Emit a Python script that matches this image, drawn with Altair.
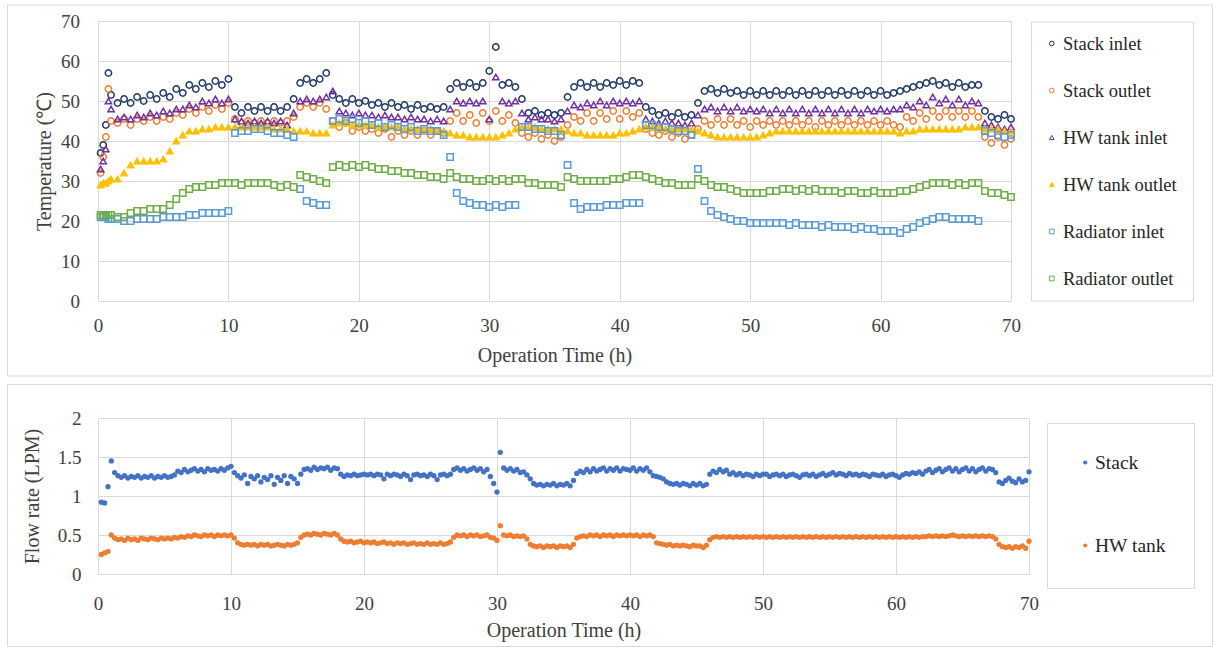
import altair as alt
import pandas as pd

FONT = "Liberation Serif"

# ---------------- Top chart: temperatures ----------------
SERIES_T = ["Stack inlet", "Stack outlet", "HW tank inlet", "HW tank outlet",
            "Radiator inlet", "Radiator outlet"]
COLORS_T = ["#203864", "#ED7D31", "#7030A0", "#FFC000", "#5B9BD5", "#70AD47"]
FILLS_T = ["transparent", "transparent", "transparent", "#FFC000",
           "transparent", "transparent"]
SHAPES_T = ["circle", "circle", "triangle-up", "triangle-up", "square", "square"]

# sampling times (h): four start-up readings, then every half hour 1.0 ... 70.0
t_top = [0.2, 0.4, 0.6, 0.8] + [1.0 + 0.5 * k for k in range(139)]

stack_inlet = [37, 39, 44, 57,
    51.5, 49.5, 50.5, 49.5, 51, 50, 51.5, 50.5, 52, 51,
    53, 52, 54, 53, 54.5, 53.5, 55, 54, 55.5, 48.5,
    47, 48.5, 47.5, 48.5, 47.5, 48.5, 47.5, 48.5, 50.5, 54.5,
    55.5, 54.5, 55.5, 57, 51.5, 50.5, 49.5, 50.5, 49.5, 50,
    49, 49.5, 48.5, 49.5, 48.5, 49, 48, 49, 48, 48.5,
    48, 48.5, 53, 54.5, 53.5, 54.5, 53.5, 54.5, 57.5, 63.5,
    54, 54.5, 53.5, 50.5, 47, 47.5, 46.5, 47, 46.5, 47,
    51, 53.5, 54.5, 53.5, 54.5, 53.5, 54.5, 54, 55, 54,
    55, 54.5, 48.5, 47.5, 46.5, 47, 46, 47, 46, 46.5,
    49.5, 52.5, 53, 52, 53, 52, 52.5, 51.5, 52.5, 51.5,
    52.5, 51.5, 52.5, 51.5, 52.5, 51.5, 52.5, 51.5, 52.5, 51.5,
    52.5, 51.5, 52.5, 51.5, 52.5, 51.5, 52.5, 51.5, 52.5, 51.5,
    52, 52.5, 53, 53.5, 54, 54.5, 55, 54, 54.5, 53.5,
    54.5, 53.5, 54, 54, 47.5, 46, 45.5, 46.5, 45.5]

stack_outlet = [32, 36, 41, 53,
    45, 44.5, 45.5, 44, 45.5, 45, 46, 45, 46, 45.5,
    47, 46.5, 48, 47, 48.5, 47.5, 49, 48, 49.5, 45.5,
    44.5, 45, 44.5, 45, 44.5, 45, 44.5, 45, 46, 48.5,
    49.5, 48.5, 49.5, 48, 45, 43.5, 44.5, 42.5, 43.5, 42.5,
    43, 42, 43, 41, 42.5, 41.5, 42.5, 41.5, 42.5, 41.5,
    42.5, 42, 45, 47, 45, 46.5, 44.5, 47, 45, 47.5,
    45, 46.5, 44.5, 42, 41, 42, 40.5, 41.5, 40, 41,
    44, 46, 45, 47, 45, 47, 45.5, 47.5, 45.5, 47.5,
    46, 47, 43, 42, 41.5, 42.5, 41, 42, 40.5, 41.5,
    43, 45, 44, 45.5, 44, 45.5, 44, 45, 43.5, 45,
    44, 45, 44, 45, 44, 45, 44, 45, 43.5, 45,
    44, 45, 44, 45, 44, 45, 44, 45, 44, 45,
    44, 43.5, 46, 45, 47, 45.5, 47.5, 46, 47.5, 46,
    47.5, 46, 47.5, 46, 41, 39.5, 41, 39, 40.5]

hw_tank_inlet = [33, 35, 38, 50,
    48, 45.5, 46, 45.5, 46.5, 46, 47, 46.5, 47.5, 47,
    48, 48, 49, 48.5, 50, 49.5, 50.5, 49.5, 50.5, 45.5,
    45, 44.5, 45, 44.5, 45, 44.5, 45, 44, 47, 50,
    50.5, 50, 50.5, 51, 52.5, 47.5, 47, 46.5, 47, 46.5,
    46.5, 46, 46.5, 46, 46, 45.5, 46, 45.5, 45.5, 45,
    45.5, 45, 48, 50, 49.5, 50, 49.5, 50, 45.5, 56,
    50, 49.5, 50, 47, 45.5, 46, 45.5, 45.5, 45, 45.5,
    47.5, 49, 48.5, 49.5, 49, 50, 49, 50, 49.5, 50,
    49.5, 50, 45.5, 45, 44.5, 45, 44.5, 44.5, 44, 44.5,
    46.5, 48, 48.5, 47.5, 48.5, 47.5, 48.5, 47.5, 48, 47.5,
    48, 47, 48, 47, 48, 47, 48, 47, 48, 47,
    48, 47, 48, 47, 48, 47, 48, 47.5, 48, 47.5,
    48, 48, 49, 48.5, 50, 49, 51, 49.5, 50.5, 49,
    50.5, 49, 50, 49.5, 44.5, 44, 43.5, 43, 43.5]

hw_tank_outlet = [29, 29.5, 29.5, 30,
    30.5, 30.5, 32, 34, 35, 35, 35, 35, 35.5, 37.5,
    40, 41.5, 42.5, 42.5, 43, 43, 43.5, 43.5, 43.5, 43.5,
    43.5, 43.5, 43.5, 43.5, 43.5, 43, 43, 43, 42.5, 42.5,
    42.5, 42, 42, 42, 44, 44.5, 44.5, 44, 44, 44,
    44, 43.5, 43.5, 43.5, 43.5, 43, 43, 43, 43, 43,
    42.5, 42.5, 42, 41.5, 41.5, 41, 41, 41, 41, 41,
    41.5, 42, 43, 43.5, 43.5, 43.5, 43, 43, 43, 43,
    42.5, 42, 42, 41.5, 41.5, 41.5, 41.5, 41.5, 42, 42,
    42.5, 43, 43.5, 43.5, 43.5, 43, 43, 43, 43, 43,
    42.5, 42, 41.5, 41, 41, 41, 41, 41, 41, 41,
    41.5, 42, 42.5, 42.5, 42.5, 42.5, 42.5, 42.5, 42.5, 42.5,
    42.5, 42.5, 42.5, 42.5, 42.5, 42.5, 42.5, 42.5, 42.5, 42.5,
    42.5, 42, 42.5, 42.5, 43, 43, 43, 43, 43, 43,
    43, 43.5, 43.5, 43.5, 43, 43, 43, 42.5, 42.5]

radiator_inlet = [21, 21, 21, 20.5,
    20.5, 20.5, 20, 20, 20.5, 20.5, 20.5, 20.5, 21, 21,
    21, 21, 21.5, 21.5, 22, 22, 22, 22, 22.5, 42,
    42.5, 42.5, 43, 43, 42.5, 42, 42, 41.5, 41, 28,
    25, 24.5, 24, 24, 45, 45.5, 45, 45.5, 44.5, 45,
    44, 44.5, 43.5, 44, 43.5, 43, 43.5, 42.5, 43, 42.5,
    42.5, 41.5, 36, 27, 25, 24.5, 24, 24, 23.5, 24,
    23.5, 24, 24, 43.5, 43.5, 43, 43, 42.5, 42.5, 41.5,
    34, 24.5, 23, 23.5, 23.5, 23.5, 24, 24, 24, 24.5,
    24.5, 24.5, 44, 44, 43.5, 43.5, 43, 42.5, 42.5, 41.5,
    33, 25, 22.5, 21.5, 21, 20.5, 20, 20, 19.5, 19.5,
    19.5, 19.5, 19.5, 19.5, 19, 19.5, 19, 19, 19, 18.5,
    19, 18.5, 18.5, 18.5, 18, 18.5, 18, 18, 17.5, 17.5,
    17.5, 17, 18, 18.5, 19.5, 20, 20.5, 21, 21, 20.5,
    20.5, 20.5, 20.5, 20, 42.5, 42, 41.5, 41, 41.5]

radiator_outlet = [21.5, 21.5, 21.5, 21.5,
    21.5, 21, 21, 22, 22.5, 22.5, 23, 23, 23, 24,
    25.5, 27, 28, 28.5, 28.5, 29, 29, 29.5, 29.5, 29.5,
    29, 29.5, 29.5, 29.5, 29.5, 29, 28.5, 29, 28.5, 31.5,
    31, 30.5, 30, 29.5, 33.5, 34, 33.5, 34, 33.5, 34,
    33.5, 33, 33, 32.5, 32.5, 32, 32, 31.5, 31.5, 31,
    31, 30.5, 32, 31, 30.5, 30.5, 30, 30, 30.5, 30,
    30.5, 30, 30.5, 30.5, 29.5, 29.5, 29, 29, 29, 28.5,
    31, 30.5, 30, 30, 30, 30, 30, 30.5, 30.5, 31,
    31.5, 31.5, 31, 30.5, 30, 29.5, 29.5, 29, 29, 29,
    30.5, 30, 29, 28.5, 28.5, 28, 27.5, 27, 27, 27,
    27, 27.5, 27.5, 28, 28, 27.5, 28, 27.5, 28, 27.5,
    27.5, 27.5, 27, 27.5, 27.5, 27, 27, 27.5, 27, 27,
    27, 27.5, 27.5, 28, 28.5, 29, 29.5, 29.5, 29.5, 29,
    29.5, 29, 29.5, 29.5, 27.5, 27, 27, 26.5, 26]

# ---------------- Bottom chart: flow rates ----------------
SERIES_B = ["Stack", "HW tank"]
COLORS_B = ["#4472C4", "#ED7D31"]

# sampling times (h): every quarter hour 0.25 ... 70.0
t_bot = [0.25 * k for k in range(1, 281)]

flow_stack = [
    0.92, 0.91, 1.12, 1.45, 1.30, 1.26, 1.24, 1.26, 1.23, 1.25, 1.24, 1.26, 1.23, 1.25, 1.24, 1.26, 1.23, 1.25, 1.24, 1.26,
    1.24, 1.25, 1.27, 1.32, 1.30, 1.34, 1.31, 1.33, 1.35, 1.32, 1.34, 1.31, 1.35, 1.33, 1.34, 1.32, 1.35, 1.33, 1.36, 1.38,
    1.30, 1.26, 1.23, 1.27, 1.16, 1.25, 1.22, 1.26, 1.18, 1.24, 1.21, 1.26, 1.15, 1.24, 1.20, 1.26, 1.16, 1.25, 1.22, 1.16,
    1.28, 1.34, 1.35, 1.33, 1.37, 1.34, 1.36, 1.35, 1.37, 1.33, 1.36, 1.35, 1.28, 1.25, 1.27, 1.26, 1.28, 1.26, 1.27, 1.28,
    1.27, 1.28, 1.26, 1.28, 1.27, 1.22, 1.28, 1.26, 1.28, 1.27, 1.25, 1.28, 1.26, 1.21, 1.27, 1.28, 1.26, 1.27, 1.25, 1.28,
    1.26, 1.21, 1.27, 1.28, 1.26, 1.28, 1.34, 1.36, 1.33, 1.35, 1.32, 1.34, 1.36, 1.33, 1.35, 1.31, 1.34, 1.25, 1.16, 1.05,
    1.56, 1.36, 1.33, 1.35, 1.32, 1.34, 1.30, 1.31, 1.27, 1.22, 1.16, 1.14, 1.15, 1.13, 1.15, 1.14, 1.16, 1.13, 1.15, 1.14,
    1.16, 1.13, 1.20, 1.29, 1.32, 1.30, 1.34, 1.31, 1.35, 1.32, 1.34, 1.36, 1.32, 1.35, 1.33, 1.36, 1.32, 1.35, 1.34, 1.33,
    1.36, 1.32, 1.35, 1.33, 1.36, 1.31, 1.26, 1.25, 1.24, 1.22, 1.18, 1.16, 1.15, 1.16, 1.14, 1.16, 1.15, 1.13, 1.16, 1.14,
    1.16, 1.13, 1.15, 1.28, 1.32, 1.30, 1.34, 1.31, 1.33, 1.28, 1.30, 1.27, 1.29, 1.26, 1.28, 1.27, 1.25, 1.28, 1.26, 1.28,
    1.28, 1.25, 1.27, 1.28, 1.26, 1.28, 1.25, 1.27, 1.28, 1.26, 1.24, 1.27, 1.28, 1.26, 1.28, 1.25, 1.27, 1.29, 1.26, 1.28,
    1.30, 1.27, 1.29, 1.28, 1.26, 1.29, 1.27, 1.28, 1.26, 1.28, 1.27, 1.25, 1.28, 1.27, 1.26, 1.28, 1.25, 1.27, 1.28, 1.26,
    1.24, 1.27, 1.29, 1.28, 1.30, 1.29, 1.31, 1.28, 1.32, 1.34, 1.30, 1.33, 1.35, 1.31, 1.34, 1.36, 1.32, 1.35, 1.31, 1.34,
    1.36, 1.32, 1.35, 1.31, 1.34, 1.36, 1.32, 1.35, 1.34, 1.30, 1.18, 1.16, 1.20, 1.23, 1.19, 1.17, 1.22, 1.18, 1.20, 1.31]

flow_hw_tank = [
    0.25, 0.27, 0.29, 0.50, 0.46, 0.44, 0.45, 0.43, 0.46, 0.44, 0.45, 0.43, 0.46, 0.45, 0.44, 0.46, 0.45, 0.44, 0.46, 0.45,
    0.46, 0.45, 0.47, 0.46, 0.48, 0.47, 0.49, 0.48, 0.50, 0.49, 0.48, 0.50, 0.49, 0.50, 0.48, 0.50, 0.49, 0.50, 0.49, 0.50,
    0.46, 0.40, 0.38, 0.37, 0.38, 0.37, 0.38, 0.36, 0.38, 0.37, 0.38, 0.36, 0.37, 0.38, 0.37, 0.36, 0.38, 0.37, 0.38, 0.40,
    0.47, 0.50, 0.51, 0.50, 0.52, 0.51, 0.50, 0.52, 0.51, 0.50, 0.52, 0.50, 0.45, 0.42, 0.41, 0.42, 0.40, 0.41, 0.42, 0.40,
    0.41, 0.40, 0.41, 0.39, 0.40, 0.41, 0.39, 0.40, 0.38, 0.40, 0.39, 0.40, 0.38, 0.39, 0.40, 0.38, 0.39, 0.38, 0.40, 0.38,
    0.39, 0.38, 0.40, 0.38, 0.39, 0.41, 0.47, 0.50, 0.49, 0.50, 0.48, 0.50, 0.49, 0.50, 0.48, 0.49, 0.50, 0.47, 0.46, 0.43,
    0.62, 0.50, 0.49, 0.50, 0.48, 0.49, 0.48, 0.49, 0.45, 0.38, 0.36, 0.35, 0.36, 0.34, 0.36, 0.35, 0.36, 0.34, 0.36, 0.35,
    0.36, 0.34, 0.38, 0.46, 0.48, 0.49, 0.48, 0.50, 0.49, 0.50, 0.48, 0.50, 0.49, 0.50, 0.48, 0.50, 0.49, 0.50, 0.49, 0.50,
    0.49, 0.50, 0.48, 0.50, 0.49, 0.50, 0.48, 0.40, 0.39, 0.38, 0.37, 0.38, 0.36, 0.37, 0.36, 0.37, 0.36, 0.35, 0.37, 0.36,
    0.36, 0.34, 0.37, 0.44, 0.47, 0.48, 0.47, 0.48, 0.47, 0.48, 0.47, 0.48, 0.47, 0.48, 0.47, 0.48, 0.47, 0.48, 0.47, 0.48,
    0.47, 0.48, 0.47, 0.48, 0.47, 0.48, 0.47, 0.48, 0.47, 0.48, 0.47, 0.48, 0.47, 0.48, 0.47, 0.48, 0.47, 0.48, 0.47, 0.48,
    0.47, 0.48, 0.47, 0.48, 0.47, 0.48, 0.47, 0.48, 0.47, 0.48, 0.47, 0.48, 0.47, 0.48, 0.47, 0.48, 0.47, 0.48, 0.47, 0.48,
    0.47, 0.48, 0.47, 0.48, 0.47, 0.48, 0.47, 0.48, 0.48, 0.49, 0.48, 0.49, 0.48, 0.49, 0.48, 0.49, 0.50, 0.49, 0.48, 0.49,
    0.48, 0.49, 0.48, 0.49, 0.48, 0.49, 0.48, 0.49, 0.48, 0.45, 0.38, 0.35, 0.34, 0.35, 0.33, 0.35, 0.34, 0.36, 0.33, 0.42]

X_TICKS = [0, 10, 20, 30, 40, 50, 60, 70]
Y_TICKS_T = [0, 10, 20, 30, 40, 50, 60, 70]
Y_TICKS_B = [0, 0.5, 1, 1.5, 2]


def long_frame(times, names, series):
    rows = []
    for name, vals in zip(names, series):
        n = min(len(times), len(vals))
        for i in range(n):
            rows.append({"t": times[i], "v": vals[i], "series": name})
    return pd.DataFrame(rows)


top_df = long_frame(t_top, SERIES_T, [stack_inlet, stack_outlet, hw_tank_inlet,
                                      hw_tank_outlet, radiator_inlet, radiator_outlet])
bot_df = long_frame(t_bot, SERIES_B, [flow_stack, flow_hw_tank])

frame_df = pd.DataFrame({"k": [0]})
FRAME = "#D9D9D9"
TXT = "#404040"


def box(x1, x2, y1, y2):
    return alt.Chart(frame_df).mark_rect(fillOpacity=0, stroke=FRAME, strokeWidth=1).encode(
        x=alt.value(x1), x2=alt.value(x2), y=alt.value(y1), y2=alt.value(y2))


def axis(title, values, label_pad, title_pad, **kw):
    return alt.Axis(values=values, title=title, labelPadding=label_pad, titlePadding=title_pad,
                    labelFont=FONT, titleFont=FONT, labelFontSize=19, titleFontSize=20,
                    labelColor=TXT, titleColor=TXT, titleFontWeight="normal",
                    labelFlush=False, domain=False, ticks=False, tickSize=0,
                    gridColor=FRAME, gridWidth=1, **kw)


TOP_W, TOP_H = 913, 280
BOT_W, BOT_H = 931, 156

leg_top = alt.Legend(title=None, orient="none", legendX=941.5, legendY=-0.8,
                     clipHeight=46.6, rowPadding=0, padding=0,
                     labelFont=FONT, labelFontSize=18.5, labelColor="#262626",
                     labelOffset=2, symbolOffset=3, symbolSize=22, symbolStrokeWidth=1)

top_points = alt.Chart(top_df).mark_point(opacity=1, strokeWidth=1.5, size=40).encode(
    x=alt.X("t:Q", scale=alt.Scale(domain=[0, 70], nice=False),
            axis=axis("Operation Time (h)", X_TICKS, 15, 10)),
    y=alt.Y("v:Q", scale=alt.Scale(domain=[0, 70], nice=False),
            axis=axis("Temperature (℃)", Y_TICKS_T, 18.5, 6)),
    stroke=alt.Stroke("series:N", scale=alt.Scale(domain=SERIES_T, range=COLORS_T), legend=leg_top),
    fill=alt.Fill("series:N", scale=alt.Scale(domain=SERIES_T, range=FILLS_T), legend=leg_top),
    shape=alt.Shape("series:N", scale=alt.Scale(domain=SERIES_T, range=SHAPES_T), legend=leg_top),
)

top = alt.layer(
    box(-90.5, 1114.5, -16, 355),
    box(933.5, 1095.5, 1, 280),
    top_points,
).properties(width=TOP_W, height=TOP_H)

leg_bot = alt.Legend(title=None, orient="none", legendX=974.5, legendY=3,
                     clipHeight=83, rowPadding=0, padding=0,
                     labelFont=FONT, labelFontSize=19.5, labelColor="#262626",
                     labelOffset=0, symbolOffset=3, symbolSize=18, symbolType="circle",
                     symbolStrokeWidth=0)

bot_points = alt.Chart(bot_df).mark_point(filled=True, shape="circle", opacity=1, size=28).encode(
    x=alt.X("t:Q", scale=alt.Scale(domain=[0, 70], nice=False),
            axis=axis("Operation Time (h)", X_TICKS, 20, 7.5)),
    y=alt.Y("v:Q", scale=alt.Scale(domain=[0, 2], nice=False),
            axis=axis("Flow rate (LPM)", Y_TICKS_B, 17, 15, labelExpr="datum.value + ''")),
    color=alt.Color("series:N", scale=alt.Scale(domain=SERIES_B, range=COLORS_B), legend=leg_bot),
)

bottom = alt.layer(
    box(-90.5, 1114.5, -33.5, 228.5),
    box(949.5, 1096.5, 5.5, 170.5),
    bot_points,
).properties(width=BOT_W, height=BOT_H)

chart = alt.vconcat(top, bottom, spacing=7).resolve_scale(
    color="independent", stroke="independent", fill="independent", shape="independent",
).resolve_legend(
    color="independent", stroke="independent", fill="independent", shape="independent",
).properties(
    padding={"left": 7, "top": 4, "right": 5, "bottom": 2},
    background="white",
).configure(font=FONT).configure_view(stroke=None)

chart.save("out.html", embed_options={"renderer": "svg", "actions": False})
